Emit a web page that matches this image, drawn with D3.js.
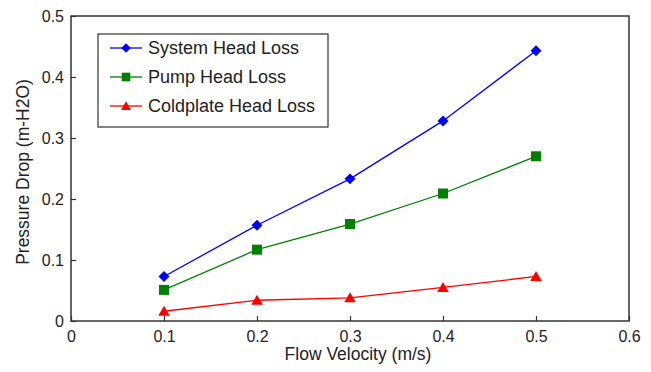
<!DOCTYPE html>
<html><head><meta charset="utf-8">
<script src="https://cdn.jsdelivr.net/npm/d3@7"></script>
<style>body{margin:0;background:#fff}svg{display:block}text{font-family:Arial,"Liberation Sans",sans-serif;fill:#222}</style>
</head><body><svg id="c" width="651" height="372"></svg>
<script>
const velocity = [0.1, 0.2, 0.3, 0.4, 0.5];
const systemLoss = [0.073, 0.157, 0.233, 0.328, 0.443];
const pumpLoss = [0.051, 0.117, 0.159, 0.209, 0.270];
const coldplateLoss = [0.016, 0.034, 0.038, 0.055, 0.073];
const xTicks = [0, 0.1, 0.2, 0.3, 0.4, 0.5, 0.6];
const yTicks = [0, 0.1, 0.2, 0.3, 0.4, 0.5];
const seriesNames = ["System Head Loss", "Pump Head Loss", "Coldplate Head Loss"];

const svg = d3.select("#c");
const L = 71, R = 629, T = 16, B = 321;
const x = d3.scaleLinear().domain([0, 0.6]).range([L, R]);
const y = d3.scaleLinear().domain([0, 0.5]).range([B, T]);
const axisColor = "#333";

// MATLAB-like markers
const diamond = {draw(ctx, size) { const r = Math.sqrt(size) / 2 * 1.15; ctx.moveTo(0, -r); ctx.lineTo(r, 0); ctx.lineTo(0, r); ctx.lineTo(-r, 0); ctx.closePath(); }};
const square = {draw(ctx, size) { const r = Math.sqrt(size) / 2; ctx.rect(-r, -r, 2 * r, 2 * r); }};
const triangle = {draw(ctx, size) { const r = Math.sqrt(size) / 2; ctx.moveTo(0, -r * 1.1); ctx.lineTo(r * 1.15, r * 0.9); ctx.lineTo(-r * 1.15, r * 0.9); ctx.closePath(); }};

const series = [
  {name: seriesNames[0], vals: systemLoss, color: "#0000ff", sym: diamond, size: 90},
  {name: seriesNames[1], vals: pumpLoss, color: "#007f00", sym: square, size: 100},
  {name: seriesNames[2], vals: coldplateLoss, color: "#ff0000", sym: triangle, size: 100}
];

// frame
svg.append("rect").attr("x", L).attr("y", T).attr("width", R - L).attr("height", B - T)
  .attr("fill", "none").attr("stroke", axisColor).attr("stroke-width", 1.5);

// axes
const xa = svg.append("g").attr("transform", `translate(0,${B})`)
  .call(d3.axisBottom(x).tickValues(xTicks).tickSize(-5).tickPadding(10).tickFormat(d3.format("~g")));
const ya = svg.append("g").attr("transform", `translate(${L},0)`)
  .call(d3.axisLeft(y).tickValues(yTicks).tickSize(-5).tickPadding(7).tickFormat(d3.format("~g")));
[xa, ya].forEach(a => {
  a.select(".domain").remove();
  a.selectAll("line").attr("stroke", axisColor).attr("stroke-width", 1.2);
  a.selectAll("text").style("font-size", "16px").style("font-family", "Arial, 'Liberation Sans', sans-serif").attr("fill", "#222");
});
ya.selectAll("text").attr("dy", "0.35em");

// axis titles
svg.append("text").attr("x", 358).attr("y", 360).attr("text-anchor", "middle")
  .style("font-size", "17.5px").text("Flow Velocity (m/s)");
svg.append("text").attr("transform", `translate(29,${172}) rotate(-90)`).attr("text-anchor", "middle")
  .style("font-size", "17.5px").text("Pressure Drop (m-H2O)");

// series
const line = d3.line().x((d, i) => x(velocity[i])).y(d => y(d));
series.forEach(s => {
  svg.append("path").datum(s.vals).attr("d", line).attr("fill", "none")
    .attr("stroke", s.color).attr("stroke-width", 1.3);
  svg.selectAll(null).data(s.vals).enter().append("path")
    .attr("d", d3.symbol().type(s.sym).size(s.size))
    .attr("transform", (d, i) => `translate(${x(velocity[i])},${y(d)})`)
    .attr("fill", s.color);
});

// legend
const lg = svg.append("g");
lg.append("rect").attr("x", 98).attr("y", 34).attr("width", 230).attr("height", 93)
  .attr("fill", "#fff").attr("stroke", axisColor).attr("stroke-width", 1.2);
series.forEach((s, i) => {
  const yy = 48 + i * 29;
  lg.append("line").attr("x1", 110).attr("x2", 142).attr("y1", yy).attr("y2", yy)
    .attr("stroke", s.color).attr("stroke-width", 1.3);
  lg.append("path").attr("d", d3.symbol().type(s.sym).size(s.size * 0.75))
    .attr("transform", `translate(126,${yy})`).attr("fill", s.color);
  lg.append("text").attr("x", 148).attr("y", yy).attr("dy", "0.36em")
    .style("font-size", "18px").text(s.name);
});
</script></body></html>
